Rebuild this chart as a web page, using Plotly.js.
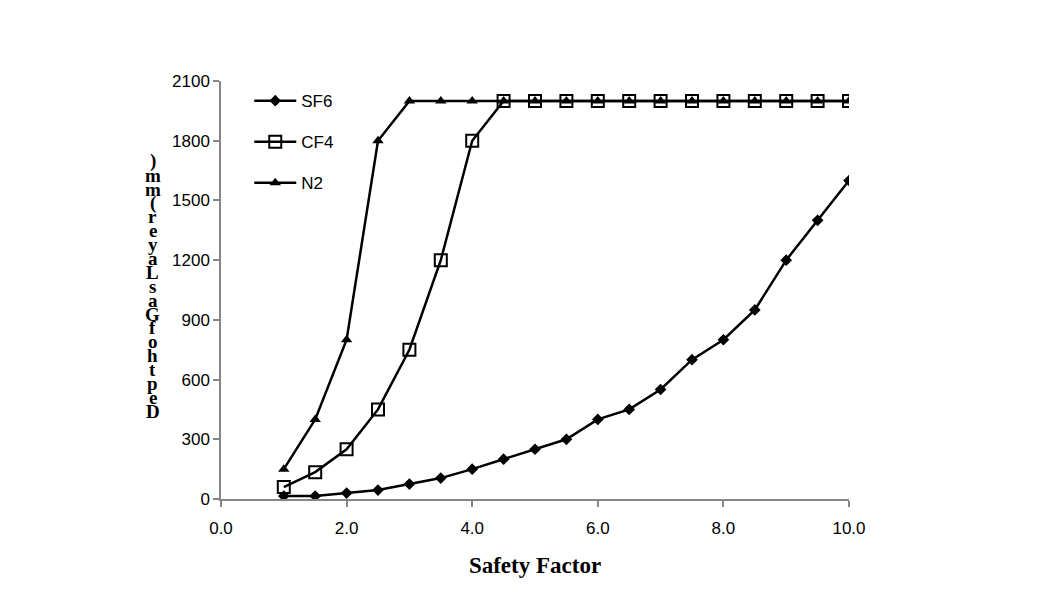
<!DOCTYPE html>
<html><head><meta charset="utf-8">
<script src="https://cdn.plot.ly/plotly-3.0.1.min.js"></script>
<style>body{margin:0;background:#fff}</style>
</head><body><div id="chart" style="width:1050px;height:609px"></div>
<script>
const safetyFactor = [1,1.5,2,2.5,3,3.5,4,4.5,5,5.5,6,6.5,7,7.5,8,8.5,9,9.5,10];
const sf6 = [15,15,30,45,75,105,150,200,250,300,400,450,550,700,800,950,1200,1400,1600];
const cf4 = [60,135,250,450,750,1200,1800,2000,2000,2000,2000,2000,2000,2000,2000,2000,2000,2000,2000];
const n2  = [150,400,800,1800,2000,2000,2000,2000,2000,2000,2000,2000,2000,2000,2000,2000,2000,2000,2000];
const seriesNames = ["SF6","CF4","N2"];
const xTicks = [0,2,4,6,8,10];
const yTicks = [0,300,600,900,1200,1500,1800,2100];
const yTitle = "Depth of Gas Layer (mm)";
const xTitle = "Safety Factor";

const lineStyle = {color:"#000", width:2.5};
const traces = [
  {x:safetyFactor, y:sf6, name:seriesNames[0], mode:"lines+markers", line:lineStyle, legendgroup:"a",
   marker:{symbol:"diamond", size:9, color:"#000"}},
  {x:safetyFactor, y:cf4, name:seriesNames[1], mode:"lines+markers", line:lineStyle, legendgroup:"b",
   marker:{symbol:"square-open", size:12, color:"#000", line:{width:2, color:"#000"}}},
  {x:safetyFactor, y:n2, name:seriesNames[2], mode:"lines+markers", line:lineStyle, legendgroup:"c",
   marker:{symbol:"triangle-up", size:10, color:"#000"}}
];

// stacked, reversed characters of the y-axis title (as drawn in the reference)
const chars = yTitle.replace(/ /g,"").split("").reverse();
const annotations = chars.map((c,i) => ({
  xref:"paper", yref:"paper", x:-0.109, y:0.808 - i*(0.598/(chars.length-1)),
  text:c, showarrow:false, xanchor:"center", yanchor:"middle",
  font:{family:"Liberation Serif", size:19, color:"#000", weight:"bold"}
}));

const layout = {
  width:1050, height:609,
  margin:{l:221, r:201, t:81, b:110},
  paper_bgcolor:"#fff", plot_bgcolor:"#fff",
  showlegend:true,
  legend:{x:0.045, y:0.995, xanchor:"left", yanchor:"top", traceorder:"grouped", tracegroupgap:16,
          itemwidth:42,
          font:{family:"Liberation Sans", size:17, color:"#000"}, bgcolor:"rgba(0,0,0,0)"},
  xaxis:{range:[0,10], tickvals:xTicks, ticktext:xTicks.map(v=>v.toFixed(1)),
         showgrid:false, zeroline:false, showline:true, linecolor:"#868686", linewidth:1.5,
         ticks:"outside", ticklen:6, tickcolor:"#868686", tickwidth:1.5, ticklabelstandoff:7,
         tickfont:{family:"Liberation Sans", size:17, color:"#000"},
         title:{text:xTitle, standoff:20, font:{family:"Liberation Serif", size:23, color:"#000", weight:"bold"}}},
  yaxis:{range:[0,2100], tickvals:yTicks, showgrid:false, zeroline:false, showline:true,
         linecolor:"#868686", linewidth:1.5, ticks:"outside", ticklen:6, tickcolor:"#868686", tickwidth:1.5,
         tickfont:{family:"Liberation Sans", size:17, color:"#000"}},
  annotations:annotations
};
Plotly.newPlot("chart", traces, layout, {displayModeBar:false});
</script></body></html>
